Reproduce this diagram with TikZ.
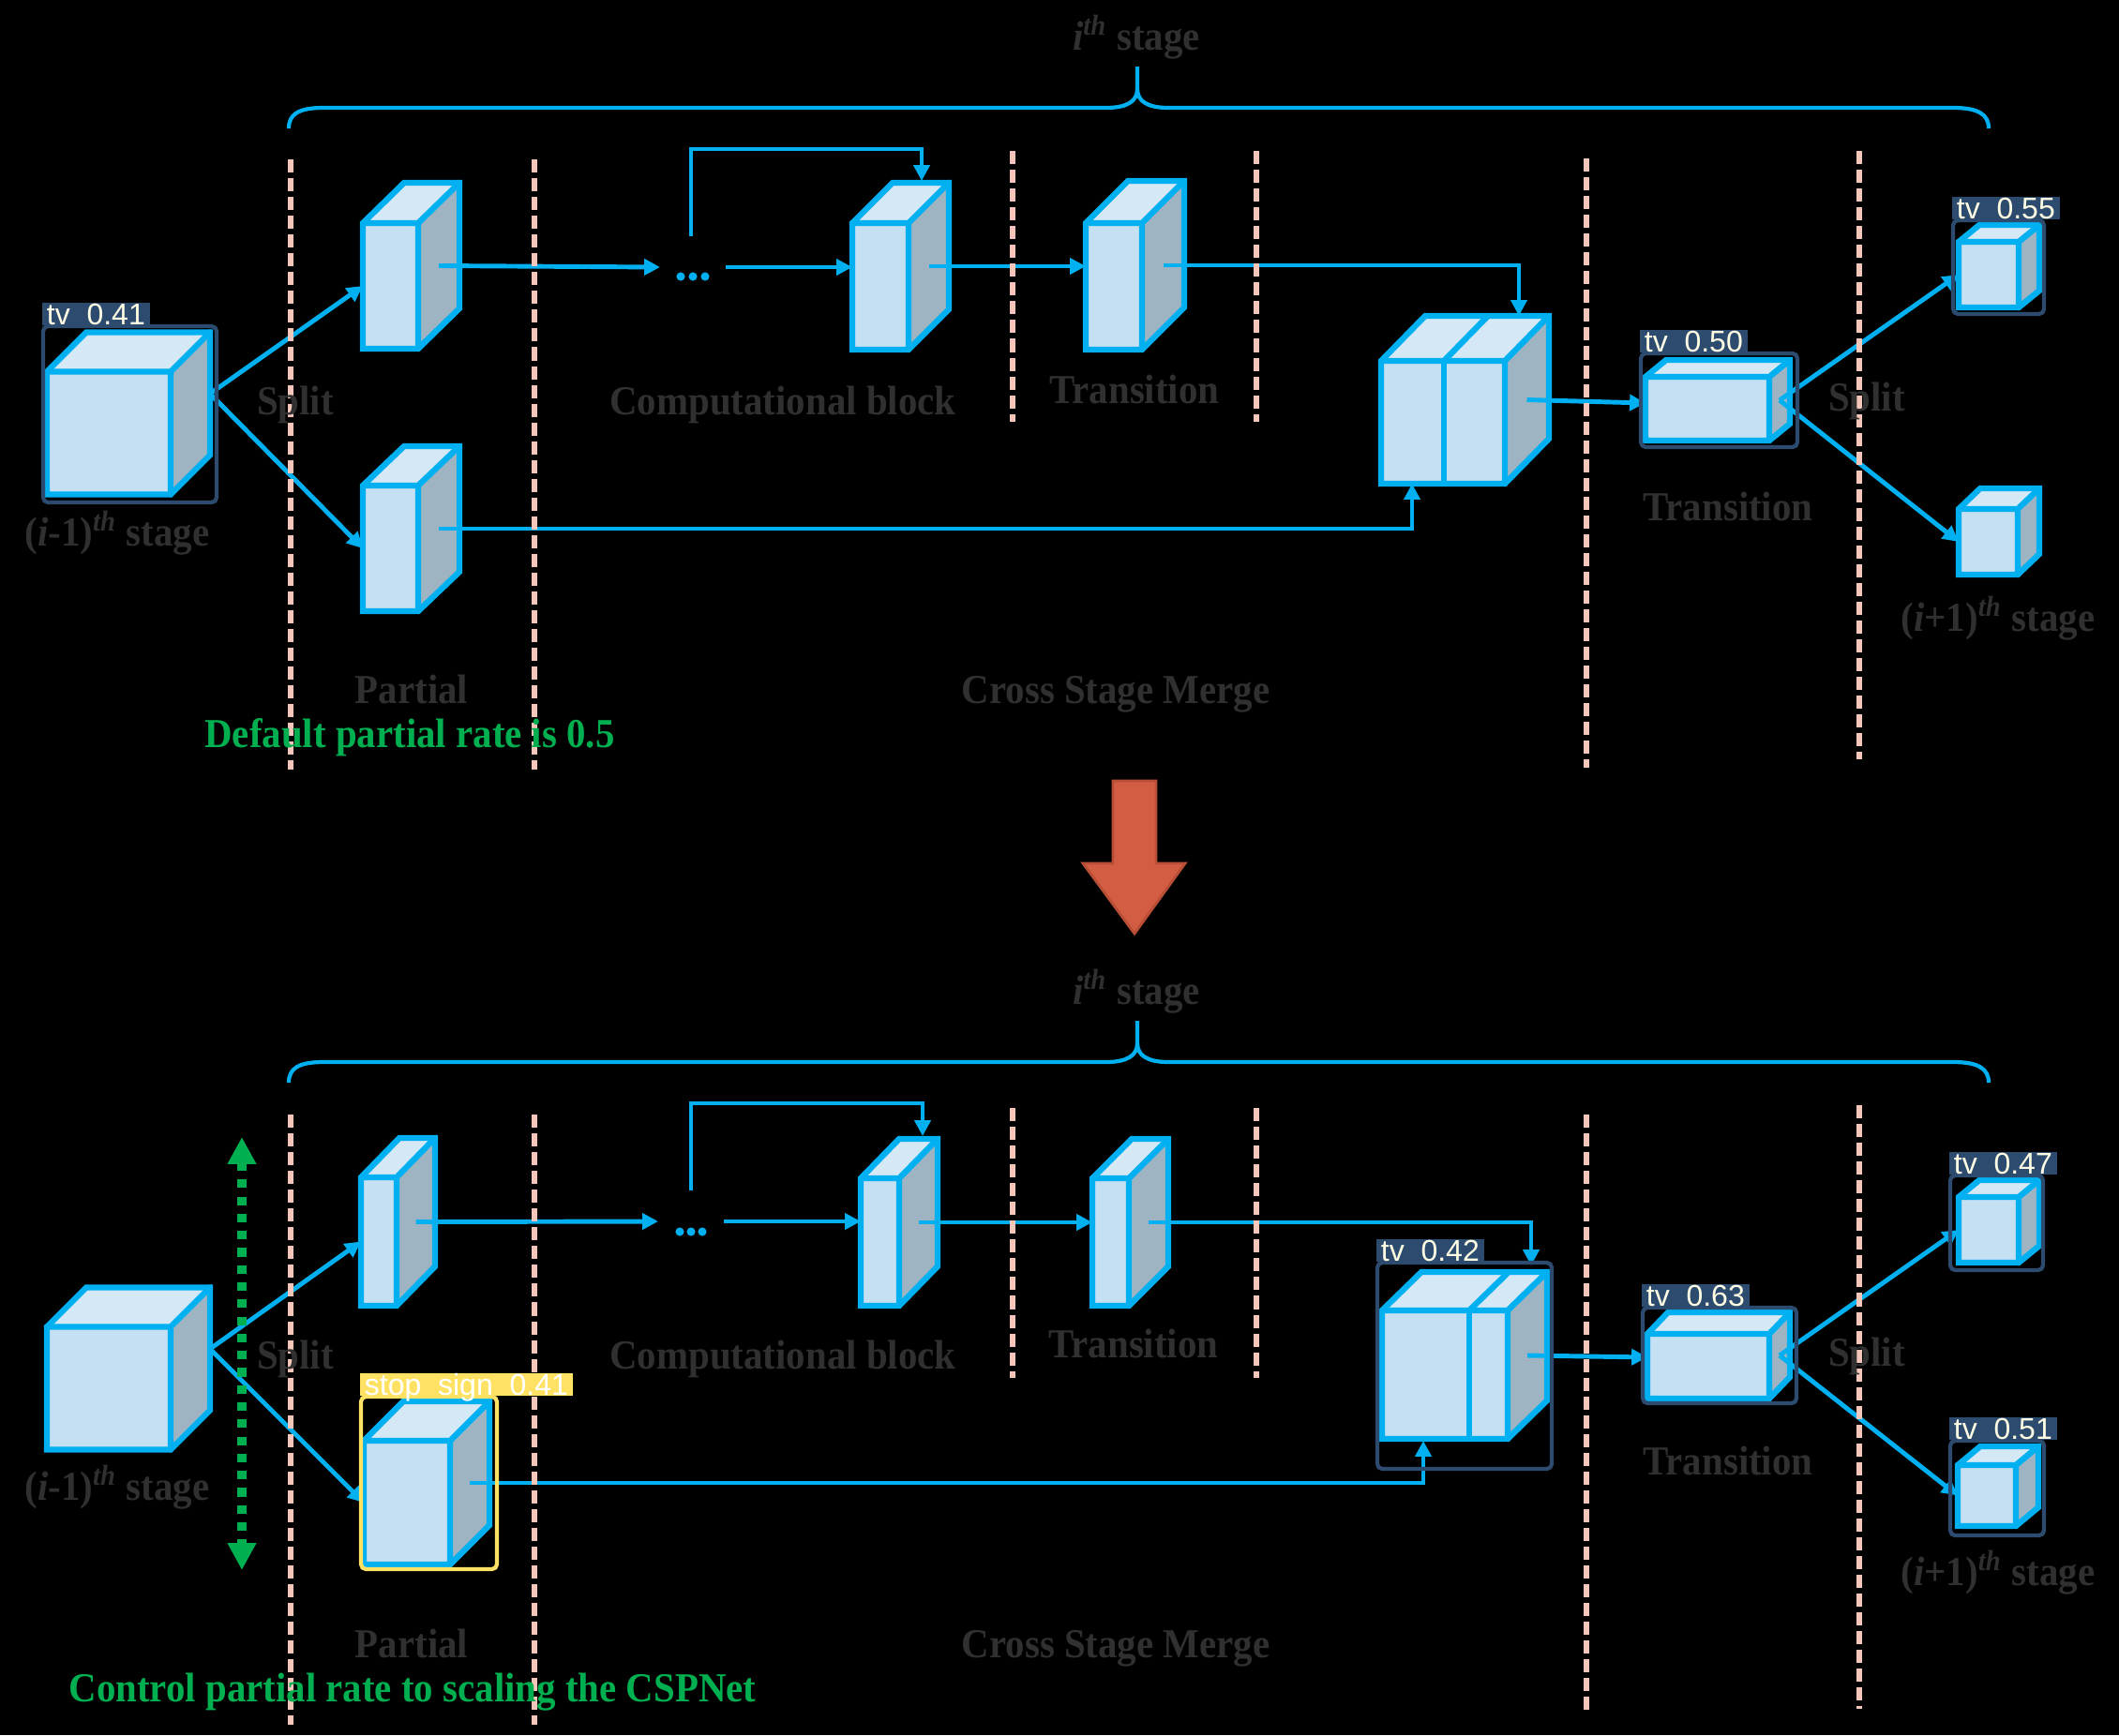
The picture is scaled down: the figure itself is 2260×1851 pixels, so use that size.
\documentclass[tikz,border=0pt]{standalone}
\usepackage{fontspec}
\usetikzlibrary{arrows.meta,calc}
\newfontfamily\capfont[FakeStretch=0.93]{Liberation Serif}
\newfontfamily\tagfont[WordSpace=2]{Liberation Sans}

\definecolor{netblue}{RGB}{0,176,240}
\definecolor{frontc}{RGB}{197,224,242}
\definecolor{topc}{RGB}{212,232,246}
\definecolor{sidec}{RGB}{159,180,194}
\definecolor{sepc}{RGB}{244,199,186}
\definecolor{capc}{RGB}{48,48,48}
\definecolor{okgreen}{RGB}{0,176,80}
\definecolor{navy}{RGB}{44,75,110}
\definecolor{tagyellow}{RGB}{255,226,100}
\definecolor{tagtext}{RGB}{255,253,228}
\definecolor{downred}{RGB}{210,93,66}
\definecolor{downredline}{RGB}{185,78,55}

% 3-D feature block: name, centre x, centre y, width, height, depth dx, depth dy
\newcommand\cubeblock[7]{%
  \node[face, minimum width=#4*0.01cm, minimum height=#5*0.01cm] (#1) at (#2,#3) {};
  \fill[topc] (#1.north west) -- ++(#6,-#7) -- ++(#4,0) -- (#1.north east) -- cycle;
  \fill[sidec] (#1.north east) -- ++(#6,-#7) -- ++(0,#5) -- (#1.south east) -- cycle;
  \draw[facedge] (#1.south west) -- (#1.north west) -- ++(#6,-#7) -- ++(#4,0) -- ++(0,#5)
                 -- (#1.south east) -- cycle;
  \draw[facedge, line cap=round] (#1.north west) -- (#1.north east) -- ++(#6,-#7)
                 (#1.north east) -- (#1.south east);
  \coordinate (#1-side) at ($(#1.east)+(0.5*#6,-0.5*#7)$);
  \coordinate (#1-back) at ($(#1.east)+(#6,-#7)$);
}
% detection frame: name, left x, top y, width, height, colour, text colour, tag
\newcommand\detbox[8]{%
  \node[draw=#6, line width=1.2pt, rounded corners=1.5pt, inner sep=0, outer sep=0,
        anchor=north west, minimum width=#4*0.01cm, minimum height=#5*0.01cm] (#1) at (#2,#3) {};
  \node[tagstyle, fill=#6, text=#7, anchor=south west] (#1-tag) at ($(#1.north west)+(-0.6pt,0)$) {#8};
}

\begin{document}
\begin{tikzpicture}[x=0.01cm, y=-0.01cm,
  face/.style={fill=frontc, inner sep=0, outer sep=0},
  facedge/.style={draw=netblue, line width=1.8pt},
  arr/.style={draw=netblue, line width=1.4pt, -{Triangle[length=4.8pt,width=4.8pt]}},
  bracestyle/.style={draw=netblue, line width=1.2pt},
  stagesep/.style={draw=sepc, line width=1.7pt, dash pattern=on 4pt off 1.7pt},
  captext/.style={font=\capfont\bfseries\fontsize{12.5}{15}\selectfont, text=capc, inner sep=0, anchor=base},
  notetext/.style={font=\capfont\bfseries\fontsize{12.5}{15}\selectfont, text=okgreen, inner sep=0, anchor=base},
  tagstyle/.style={inner xsep=1.5pt, inner ysep=0pt, minimum height=0.24cm, text height=6.5pt, text depth=0pt,
              font=\tagfont\fontsize{9.1}{9.1}\selectfont},
  dotbox/.style={inner sep=0, outer sep=0, minimum width=0.7cm, minimum height=0.2cm},
  gline/.style={draw=okgreen, line width=2.6pt, dash pattern=on 2.6pt off 2.6pt,
                {Triangle[length=8.2pt,width=8.2pt]}-{Triangle[length=8.2pt,width=8.2pt]}}
]
\useasboundingbox (0,0) rectangle (2260,1851);
\fill[black] (0,0) rectangle (2260,1851);

% ---------------- braces and the step arrow ----------------
\foreach \dy in {0,1018}{
  \begin{scope}[yshift=-\dy*0.01cm]
    \draw[bracestyle] (308,137) .. controls (308,122) and (318,115) .. (345,115) -- (1180,115)
                 .. controls (1202,115) and (1213,108) .. (1213,95) -- (1213,71);
    \draw[bracestyle] (1213,95) .. controls (1213,108) and (1224,115) .. (1246,115) -- (2083,115)
                 .. controls (2110,115) and (2121,122) .. (2121,137);
  \end{scope}
}
\filldraw[fill=downred, draw=downredline, line width=0.8pt]
  (1187,833) -- (1233,833) -- (1233,921) -- (1264,921) -- (1210,996) -- (1155,921) -- (1187,921) -- cycle;

% ---------------- upper network ----------------
\cubeblock{in1}{116}{462}{132}{131}{42}{42}
\cubeblock{pa1}{416.5}{305}{59}{134}{44}{43}
\cubeblock{pb1}{416.5}{585}{59}{134}{44}{42}
\cubeblock{cb1}{939}{305.5}{60}{135}{43}{43}
\cubeblock{tr1}{1188}{305.5}{60}{135}{45}{45}
\cubeblock{mg1}{1539}{450.5}{132}{131}{47}{48}
\draw[facedge] ($(mg1.north west)+(67,0)$) -- ($(mg1.south west)+(67,0)$);
\draw[facedge] ($(mg1.north west)+(67,0)$) -- ++(47,-48);
\cubeblock{tf1}{1821}{436}{132}{68}{22}{18}
\cubeblock{up1}{2121}{293}{64}{70}{22}{18}
\cubeblock{dn1}{2120.5}{578}{63}{70}{23}{22}

\node[dotbox] (dots1) at (739,285) {};
\foreach \k in {-13,0,13} \fill[netblue] ($(dots1.center)+(\k,10)$) circle[radius=1.3pt];

\coordinate (sk1a) at (737,252);
\coordinate (sk1m) at (983,159);
\coordinate (sk1b) at (983,193);
\coordinate (mg1-top) at (1620,337);
\coordinate (mg1-bot) at (1506,516);
\coordinate (tf1-in) at (1755,430);

\draw[arr] (in1-back) -- (pa1.west);
\draw[arr] (in1-back) -- (pb1.west);
\draw[arr] (pa1-side) -- (dots1.west);
\draw[arr] (dots1.east) -- (dots1.east -| cb1.west);
\draw[arr] (sk1a) |- (sk1m) -- (sk1b);
\draw[arr] (cb1-side) -- (cb1-side -| tr1.west);
\draw[arr] (tr1-side) -| (mg1-top);
\draw[arr] (pb1-side) -| (mg1-bot);
\draw[arr] (mg1-side) -- (tf1-in);
\draw[arr] (tf1-side) -- (up1.west);
\draw[arr] (tf1-side) -- (dn1.west);

% ---------------- lower network ----------------
\cubeblock{in2}{116}{1481}{132}{131}{42}{42}
\cubeblock{pa2}{404}{1324.5}{38}{137}{41}{42}
\cubeblock{pb2}{434}{1603}{92}{132}{42}{42}
\cubeblock{cb2}{938.5}{1325}{41}{136}{41}{42}
\cubeblock{tr2}{1184.5}{1325}{39}{136}{42}{42}
\cubeblock{mg2}{1541}{1466.5}{134}{137}{42}{41}
\draw[facedge] ($(mg2.north west)+(93,0)$) -- ($(mg2.south west)+(93,0)$);
\draw[facedge] ($(mg2.north west)+(93,0)$) -- ++(42,-41);
\cubeblock{tf2}{1822}{1457.5}{130}{69}{22}{23}
\cubeblock{up2}{2121}{1312}{64}{70}{22}{18}
\cubeblock{dn2}{2119}{1595.5}{62}{65}{24}{20}

\node[dotbox] (dots2) at (737,1303) {};
\foreach \k in {-12,0,12} \fill[netblue] ($(dots2.center)+(\k,11)$) circle[radius=1.3pt];

\coordinate (sk2a) at (737,1270);
\coordinate (sk2m) at (984,1177);
\coordinate (sk2b) at (984,1212);
\coordinate (mg2-top) at (1633,1350);
\coordinate (mg2-bot) at (1518,1537);
\coordinate (tf2-in) at (1757,1448);

\draw[arr] (in2-back) -- (pa2.west);
\draw[arr] (in2-back) -- (pb2.west);
\draw[arr] (pa2-side) -- (dots2.west);
\draw[arr] (dots2.east) -- (dots2.east -| cb2.west);
\draw[arr] (sk2a) |- (sk2m) -- (sk2b);
\draw[arr] (cb2-side) -- (cb2-side -| tr2.west);
\draw[arr] (tr2-side) -| (mg2-top);
\draw[arr] (pb2-side) -| (mg2-bot);
\draw[arr] (mg2-side) -- (tf2-in);
\draw[arr] (tf2-side) -- (up2.west);
\draw[arr] (tf2-side) -- (dn2.west);

% ---------------- stage separators ----------------
\foreach \xx/\ya/\yb in {310/170/821, 570/170/821, 1080/161/450, 1340/161/450, 1692/169/819, 1983/161/810,
                          310/1189/1840, 570/1189/1840, 1080/1182/1470, 1340/1182/1470, 1692/1189/1830, 1983/1179/1823}
  \draw[stagesep] (\xx,\ya) -- (\xx,\yb);

% ---------------- captions ----------------
\node[captext] (stage1) at (1212,53) {\textit{i}\textsuperscript{\textit{th}} stage};
\node[captext] (prev1) at (125,582) {(\textit{i}-1)\textsuperscript{\textit{th}} stage};
\node[captext] (split1) at (315,442) {Split};
\node[captext] (comp1) at (835,442) {Computational block};
\node[captext] (trans1) at (1210,430) {Transition};
\node[captext] (trans1b) at (1843,555) {Transition};
\node[captext] (split1b) at (1991,438) {Split};
\node[captext] (next1) at (2131,673) {(\textit{i}+1)\textsuperscript{\textit{th}} stage};
\node[captext] (part1) at (439,750) {Partial};
\node[captext] (csm1) at (1190,750) {Cross Stage Merge};
\node[notetext] (note1) at (437,797) {Default partial rate is 0.5};

\node[captext] (stage2) at (1212,1071) {\textit{i}\textsuperscript{\textit{th}} stage};
\node[captext] (prev2) at (125,1600) {(\textit{i}-1)\textsuperscript{\textit{th}} stage};
\node[captext] (split2) at (315,1460) {Split};
\node[captext] (comp2) at (835,1460) {Computational block};
\node[captext] (trans2) at (1209,1448) {Transition};
\node[captext] (trans2b) at (1843,1573) {Transition};
\node[captext] (split2b) at (1991,1457) {Split};
\node[captext] (next2) at (2131,1691) {(\textit{i}+1)\textsuperscript{\textit{th}} stage};
\node[captext] (part2) at (439,1768) {Partial};
\node[captext] (csm2) at (1190,1768) {Cross Stage Merge};
\node[notetext] (note2) at (440,1815) {Control partial rate to scaling the CSPNet};

% ---------------- partial-rate control ----------------
\coordinate (gtop) at (258,1213);
\coordinate (gbot) at (258,1675);
\draw[gline] (gtop) -- (gbot);

% ---------------- detection frames ----------------
\detbox{d41}{46}{348}{185}{188}{navy}{tagtext}{tv 0.41}
\detbox{d50}{1750}{377}{167}{100}{navy}{tagtext}{tv 0.50}
\detbox{d55}{2083}{235}{97}{100}{navy}{tagtext}{tv 0.55}
\detbox{d42}{1469}{1347}{186}{220}{navy}{tagtext}{tv 0.42}
\detbox{d63}{1752}{1395}{164}{102}{navy}{tagtext}{tv 0.63}
\detbox{d47}{2080}{1254}{99}{101}{navy}{tagtext}{tv 0.47}
\detbox{d51}{2080}{1537}{100}{101}{navy}{tagtext}{tv 0.51}
\detbox{dss}{385}{1490}{145}{184}{tagyellow}{white}{stop sign 0.41}
\end{tikzpicture}
\end{document}
